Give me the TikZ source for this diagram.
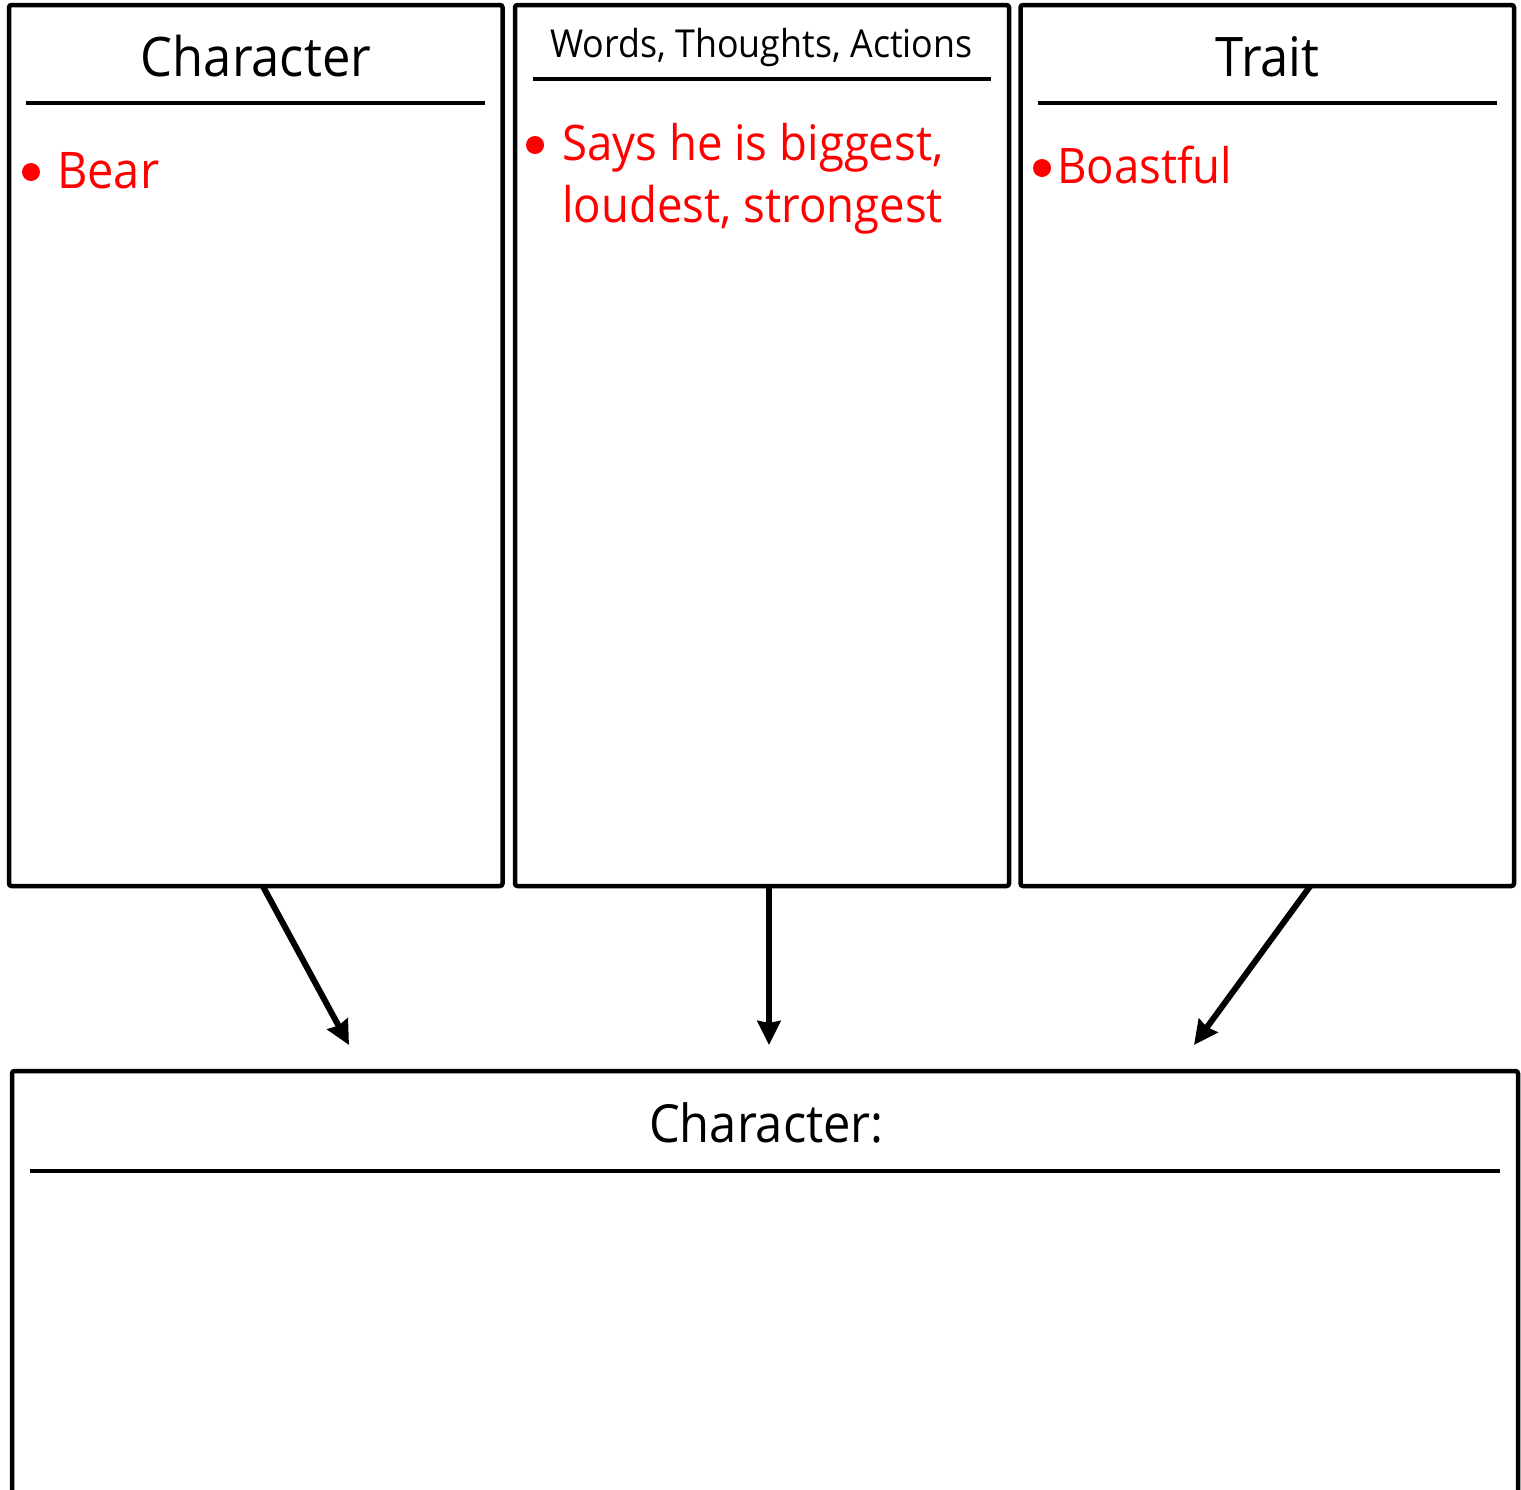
\documentclass[tikz,border=0pt]{standalone}
\usepackage{fontspec}
\setmainfont{Open Sans}[FakeStretch=0.93]
\usetikzlibrary{arrows.meta,calc}
\definecolor{redtext}{RGB}{255,0,0}
\begin{document}
\begin{tikzpicture}[x=1pt,y=-1pt,
  panel/.style={draw=black,line width=4.5pt,rounded corners=2.5pt,inner sep=0pt,outer sep=0pt,rectangle},
  rule/.style={line width=4pt},
  title/.style={inner sep=0pt,anchor=base,text=black},
  redline/.style={inner sep=0pt,anchor=base west,text=redtext},
  dot/.style={circle,fill=redtext,inner sep=0pt,minimum size=18pt},
  conn/.style={line width=6pt,-{Stealth[length=24pt,width=23pt,inset=2pt]}}]
\useasboundingbox (0,0) rectangle (1521,1489);
\clip (0,0) rectangle (1521,1489);
\fill[white] (0,0) rectangle (1521,1489);
% panels
\node[panel,minimum width=493.5pt,minimum height=881pt] (boxA) at (255.75,445.5) {};
\node[panel,minimum width=494pt,minimum height=881pt] (boxB) at (762,445.5) {};
\node[panel,minimum width=493.5pt,minimum height=881pt] (boxC) at (1267.25,445.5) {};
\node[panel,minimum width=1506pt,minimum height=540pt] (boxD) at (765,1341) {};
% header rules
\draw[rule] (26,102.5) -- (485,102.5);
\draw[rule] (533,78.5) -- (991,78.5);
\draw[rule] (1038,102.5) -- (1497,102.5);
\draw[rule] (30,1170.5) -- (1500,1170.5);
% titles
\node[title,font=\fontsize{54.5}{60}\selectfont] (tA) at (256,76) {Character};
\node[title,font=\fontsize{38.5}{44}\selectfont] (tB) at (761.5,57) {Words, Thoughts, Actions};
\node[title,font=\fontsize{54.5}{60}\selectfont] (tC) at (1267.5,76) {Trait};
\node[title,font=\fontsize{52.5}{58}\selectfont] (tD) at (766.5,1142) {Character:};
% red entries
\node[dot] (dA) at (31,172) {};
\node[redline,font=\fontsize{50.5}{60}\selectfont] (eA) at (57,188) {Bear};
\node[dot] (dB) at (535,145) {};
\node[redline,font=\fontsize{49}{60}\selectfont] (eB1) at (562,160) {Says he is biggest,};
\node[redline,font=\fontsize{49}{60}\selectfont] (eB2) at (562,222) {loudest, strongest};
\node[dot] (dC) at (1042,168) {};
\node[redline,font=\fontsize{49}{60}\selectfont] (eC) at (1057,183) {Boastful};
% connectors
\coordinate (endA) at (349,1045);
\coordinate (endB) at (769,1045);
\coordinate (endC) at (1194,1045);
\draw[conn] ([xshift=7pt]boxA.south) -- (endA);
\draw[conn] ([xshift=7pt]boxB.south) -- (endB);
\draw[conn] ([xshift=43pt]boxC.south) -- (endC);
\end{tikzpicture}
\end{document}
